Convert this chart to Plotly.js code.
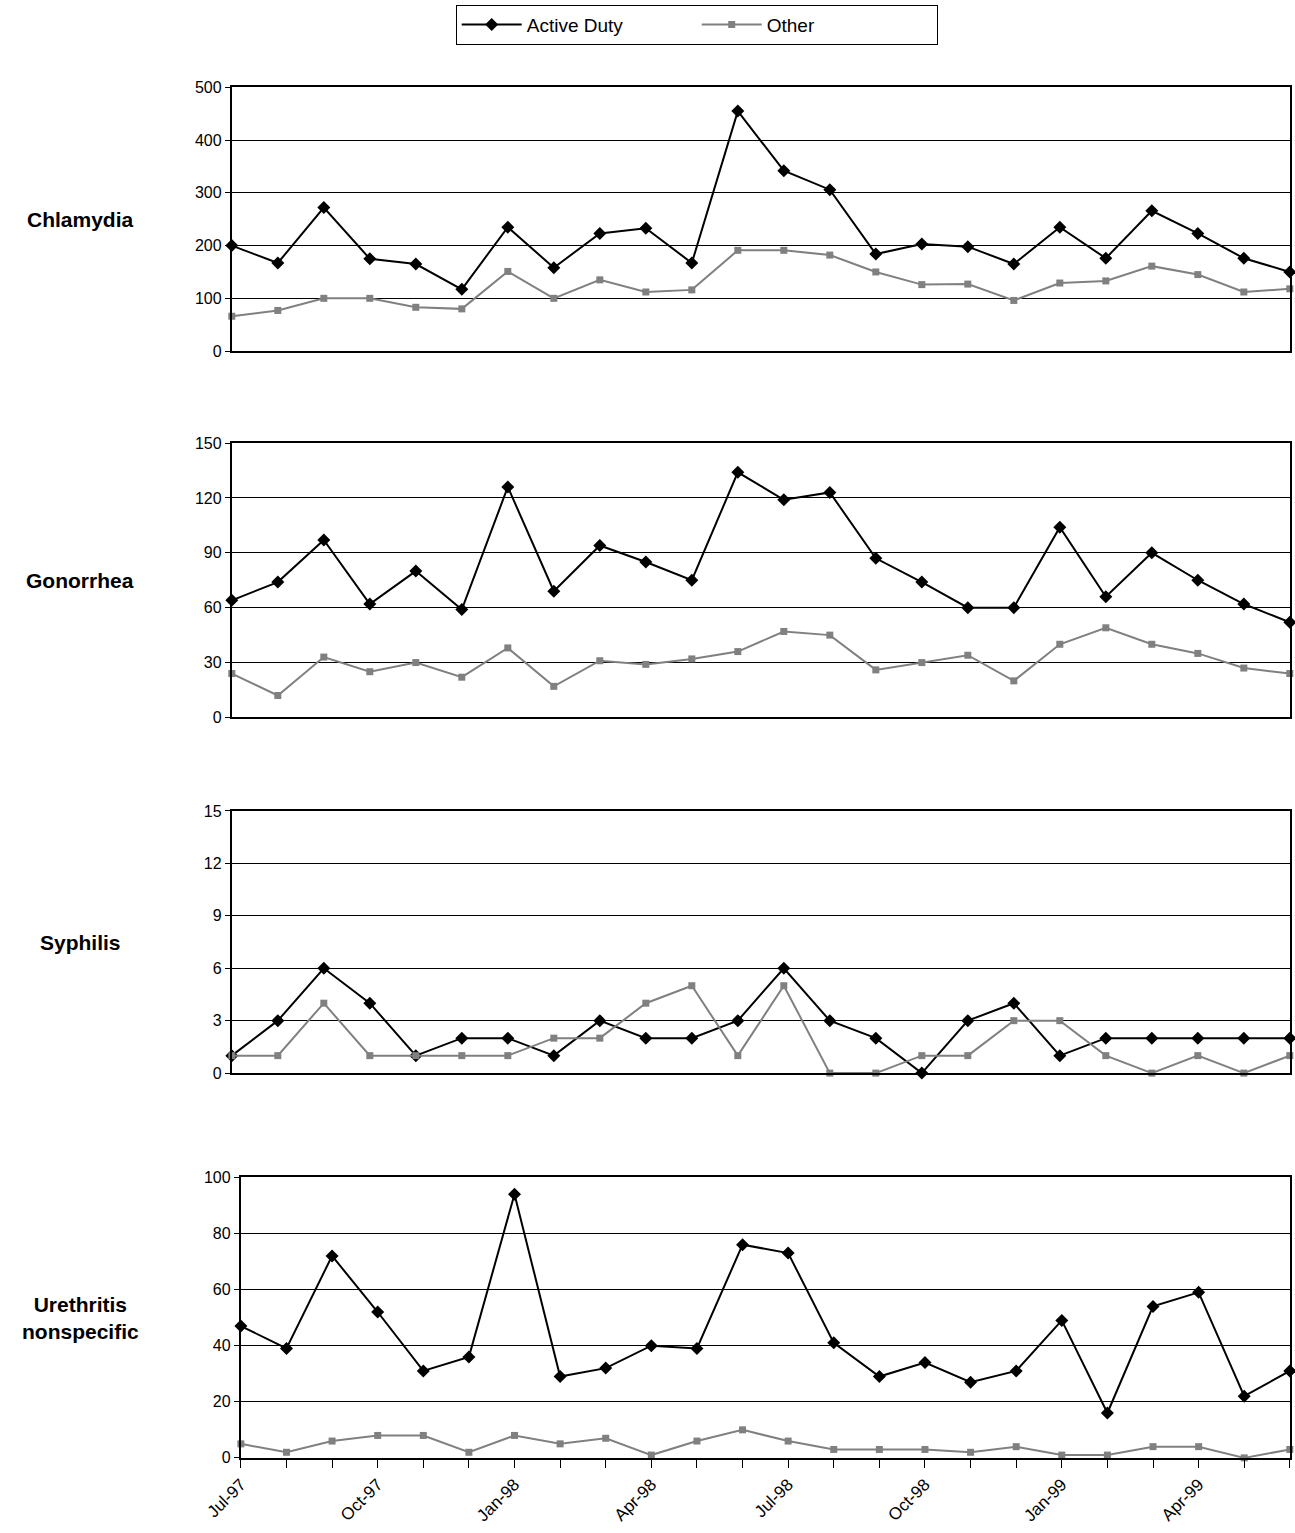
<!DOCTYPE html>
<html>
<head>
<meta charset="utf-8">
<script src="https://cdn.plot.ly/plotly-3.0.1.min.js"></script>
<style>body{margin:0;background:#fff}#chart{width:1295px;height:1533px}</style>
</head>
<body>
<div id="chart"></div>
<script>
const months = ['Jul-97','Aug-97','Sep-97','Oct-97','Nov-97','Dec-97','Jan-98','Feb-98','Mar-98','Apr-98','May-98','Jun-98',
  'Jul-98','Aug-98','Sep-98','Oct-98','Nov-98','Dec-98','Jan-99','Feb-99','Mar-99','Apr-99','May-99','Jun-99'];

const chlamydiaActive = [200,167,272,175,165,117,235,158,223,233,167,455,342,306,184,203,198,165,235,176,266,223,176,150];
const chlamydiaOther = [66,77,100,100,83,80,151,100,135,112,116,191,191,182,150,126,127,96,129,133,161,145,112,118];
const gonorrheaActive = [64,74,97,62,80,59,126,69,94,85,75,134,119,123,87,74,60,60,104,66,90,75,62,52];
const gonorrheaOther = [24,12,33,25,30,22,38,17,31,29,32,36,47,45,26,30,34,20,40,49,40,35,27,24];
const syphilisActive = [1,3,6,4,1,2,2,1,3,2,2,3,6,3,2,0,3,4,1,2,2,2,2,2];
const syphilisOther = [1,1,4,1,1,1,1,2,2,4,5,1,5,0,0,1,1,3,3,1,0,1,0,1];
const urethritisActive = [47,39,72,52,31,36,94,29,32,40,39,76,73,41,29,34,27,31,49,16,54,59,22,31];
const urethritisOther = [5,2,6,8,8,2,8,5,7,1,6,10,6,3,3,3,2,4,1,1,4,4,0,3];

const panels = [
  {name: 'Chlamydia', active: chlamydiaActive, other: chlamydiaOther, max: 500, dtick: 100, dom: [0.771, 0.943]},
  {name: 'Gonorrhea', active: gonorrheaActive, other: gonorrheaOther, max: 150, dtick: 30, dom: [0.532, 0.711]},
  {name: 'Syphilis', active: syphilisActive, other: syphilisOther, max: 15, dtick: 3, dom: [0.300, 0.471]},
  {name: 'Urethritis<br>nonspecific', active: urethritisActive, other: urethritisOther, max: 100, dtick: 20, dom: [0.049, 0.232]}
];

const idx = months.map((m, i) => i);
const traces = [];
const layout = {
  width: 1295, height: 1533,
  margin: {l: 0, r: 0, t: 0, b: 0},
  paper_bgcolor: '#fff', plot_bgcolor: '#fff',
  font: {family: 'Liberation Sans, Arial, sans-serif', size: 15, color: '#000'},
  showlegend: true,
  legend: {orientation: 'h', x: 0.538, xanchor: 'center', y: 0.997, yanchor: 'top',
    bordercolor: '#000', borderwidth: 1, font: {size: 19}, entrywidth: 165, itemwidth: 60},
  annotations: []
};

panels.forEach((p, k) => {
  const n = k + 1;
  const xa = n === 1 ? 'x' : 'x' + n;
  const ya = n === 1 ? 'y' : 'y' + n;
  traces.push({x: idx, y: p.active, xaxis: xa, yaxis: ya, mode: 'lines+markers', name: 'Active Duty',
    showlegend: k === 0, cliponaxis: false,
    line: {color: '#000', width: 2}, marker: {symbol: 'diamond', size: 10, color: '#000'}});
  traces.push({x: idx, y: p.other, xaxis: xa, yaxis: ya, mode: 'lines+markers', name: 'Other',
    showlegend: k === 0, cliponaxis: false,
    line: {color: '#808080', width: 2}, marker: {symbol: 'square', size: 7, color: '#808080'}});
  const last = n === 4;
  layout['xaxis' + (n === 1 ? '' : n)] = {
    domain: [last ? 0.186 : 0.179, 0.996], range: [0, 23], anchor: ya,
    showgrid: false, zeroline: false, showline: true, linecolor: '#000', linewidth: 2, mirror: true,
    tickvals: last ? idx : [], ticktext: last ? months.map((m, i) => i % 3 === 0 ? m : '') : [],
    ticks: last ? 'outside' : '', ticklen: 8, tickcolor: '#000', tickangle: -45,
    showticklabels: last, tickfont: {size: 17}
  };
  layout['yaxis' + (n === 1 ? '' : n)] = {
    domain: p.dom, range: [0, p.max], dtick: p.dtick, anchor: xa,
    showgrid: true, gridcolor: '#000', gridwidth: 1, zeroline: false,
    showline: true, linecolor: '#000', linewidth: 2, mirror: true,
    ticks: 'outside', ticklen: 5, tickcolor: '#000', tickfont: {size: 16}
  };
  layout.annotations.push({text: '<b>' + p.name + '</b>', xref: 'paper', yref: 'paper',
    x: 0.062, y: (p.dom[0] + p.dom[1]) / 2, xanchor: 'center', yanchor: 'middle',
    showarrow: false, font: {size: 21}});
});

Plotly.newPlot('chart', traces, layout, {displayModeBar: false, staticPlot: true});
</script>
</body>
</html>
